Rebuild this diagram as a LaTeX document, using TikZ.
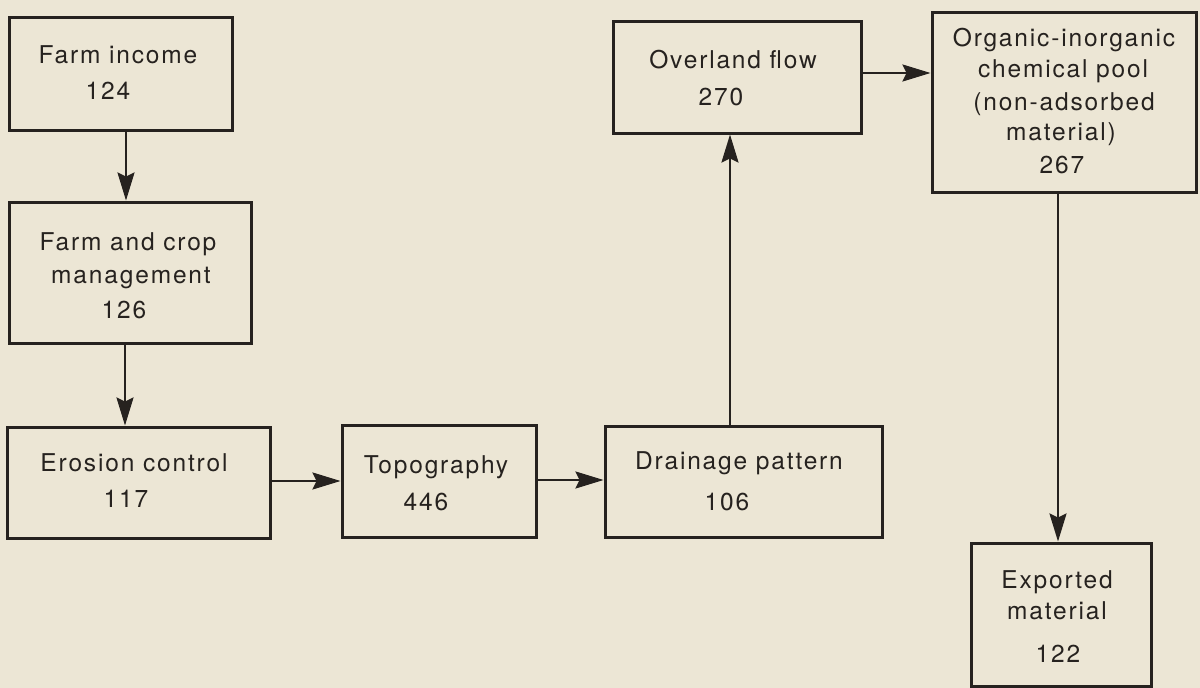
\documentclass[tikz,border=0pt]{standalone}
\usepackage{fontspec}
\setmainfont{TeX Gyre Heros}[LetterSpace=7.5]
\usetikzlibrary{arrows.meta}
\definecolor{bg}{RGB}{236,230,213}
\definecolor{ink}{RGB}{38,34,31}
\tikzset{
  box/.style={draw=ink, line width=3pt, rectangle, inner sep=0pt},
  txt/.style={text=ink, inner sep=0pt, anchor=base, font=\fontsize{24.5pt}{29pt}\selectfont},
  arr/.style={draw=ink, line width=2.2pt, -{Stealth[length=28pt,width=17pt,inset=4pt]}}
}
\begin{document}
\begin{tikzpicture}[x=1pt,y=-1pt]
\fill[bg] (0,0) rectangle (1200,688);
\useasboundingbox (0,0) rectangle (1200,688);

% boxes
\node[box, minimum width=223pt, minimum height=113pt] (income) at (120.5,73.5) {};
\node[box, minimum width=242pt, minimum height=141pt] (mgmt) at (130,272.5) {};
\node[box, minimum width=263pt, minimum height=111pt] (erosion) at (138.5,482.5) {};
\node[box, minimum width=194pt, minimum height=112pt] (topo) at (439,481) {};
\node[box, minimum width=277pt, minimum height=111pt] (drain) at (743.5,481.5) {};
\node[box, minimum width=248pt, minimum height=112pt] (overland) at (737,77) {};
\node[box, minimum width=264pt, minimum height=180pt] (pool) at (1064,102) {};
\node[box, minimum width=180pt, minimum height=143pt] (export) at (1061,614.5) {};

% texts
\node[txt] (income1) at (118,63) {Farm income};
\node[txt] (income2) at (108,99) {124};

\node[txt] (mgmt1) at (128,250) {Farm and crop};
\node[txt] (mgmt2) at (131,283) {management};
\node[txt] (mgmt3) at (124,318) {126};

\node[txt] (erosion1) at (134,471) {Erosion control};
\node[txt] (erosion2) at (126,507) {117};

\node[txt] (topo1) at (436,473) {Topography};
\node[txt] (topo2) at (426,510) {446};

\node[txt] (drain1) at (739,469) {Drainage pattern};
\node[txt] (drain2) at (727,510) {106};

\node[txt] (overland1) at (733,68) {Overland flow};
\node[txt] (overland2) at (721,105) {270};

\node[txt] (pool1) at (1064,46) {Organic-inorganic};
\node[txt] (pool2) at (1063,77) {chemical pool};
\node[txt] (pool3) at (1064,110) {(non-adsorbed};
\node[txt] (pool4) at (1061,140) {material)};
\node[txt] (pool5) at (1062,173) {267};

\node[txt] (export1) at (1057,588) {Exported};
\node[txt] (export2) at (1057,619) {material};
\node[txt] (export3) at (1058,662) {122};

% connectors
\draw[arr] ([xshift=5.5pt]income.south) -- ([xshift=-4pt]mgmt.north);
\draw[arr] ([xshift=-5pt]mgmt.south) -- ([xshift=-13.5pt]erosion.north);
\draw[arr] ([yshift=1.5pt]erosion.east) -- (topo.west);
\draw[arr] ([yshift=1pt]topo.east) -- ([yshift=1.5pt]drain.west);
\draw[arr] ([xshift=-13.5pt]drain.north) -- ([xshift=-7pt]overland.south);
\draw[arr] ([yshift=4pt]overland.east) -- ([yshift=29pt]pool.west);
\draw[arr] ([xshift=-6pt]pool.south) -- ([xshift=-3pt]export.north);
\end{tikzpicture}
\end{document}
